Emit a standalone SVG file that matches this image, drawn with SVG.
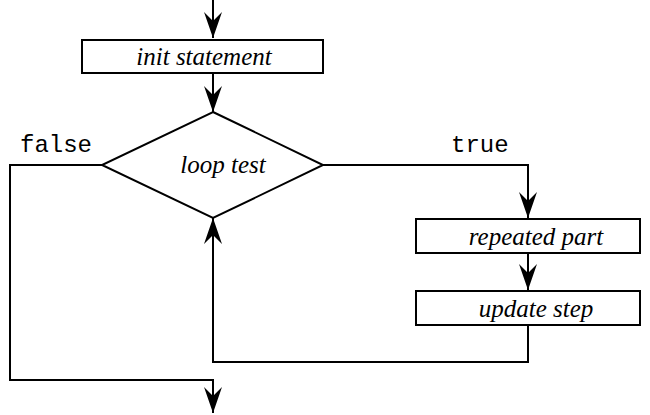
<svg xmlns="http://www.w3.org/2000/svg" width="650" height="415" viewBox="0 0 650 415">
<style>
.box{fill:#fff;stroke:#000;stroke-width:2}
.ln{fill:none;stroke:#000;stroke-width:2}
.lbl{font-family:"Liberation Serif",serif;font-style:italic;font-size:25px;text-anchor:middle;fill:#000}
.mono{font-family:"Liberation Mono",monospace;font-size:24px;fill:#000}
</style>
<defs>
<marker id="ah" markerUnits="userSpaceOnUse" markerWidth="28" markerHeight="20" viewBox="-27 -10 28 20" refX="0" refY="0" orient="auto">
<path d="M0,0 L-26,-9 L-17,0 L-26,9 Z" fill="#000"/>
</marker>
</defs>
<g id="connectors">
<path class="ln" d="M213,0 V38" marker-end="url(#ah)"/>
<path class="ln" d="M213,73 V112" marker-end="url(#ah)"/>
<path class="ln" d="M323,165 H528 V218" marker-end="url(#ah)"/>
<path class="ln" d="M528,253 V290" marker-end="url(#ah)"/>
<path class="ln" d="M528,325 V362 H213 V218" marker-end="url(#ah)"/>
<path class="ln" d="M102,165 H10 V380 H213 V413" marker-end="url(#ah)"/>
<text class="mono" x="20" y="152">false</text>
<text class="mono" x="451" y="152">true</text>
</g>
<g id="init">
<rect class="box" x="82" y="40" width="241" height="33"/>
<text class="lbl" x="204" y="65">init statement</text>
</g>
<g id="test">
<polygon class="box" points="213,112 323,165 213,218 102,165"/>
<text class="lbl" x="223" y="173">loop test</text>
</g>
<g id="repeated">
<rect class="box" x="416" y="219" width="224" height="34"/>
<text class="lbl" x="536" y="245">repeated part</text>
</g>
<g id="update">
<rect class="box" x="416" y="291" width="224" height="34"/>
<text class="lbl" x="536" y="317">update step</text>
</g>
</svg>
